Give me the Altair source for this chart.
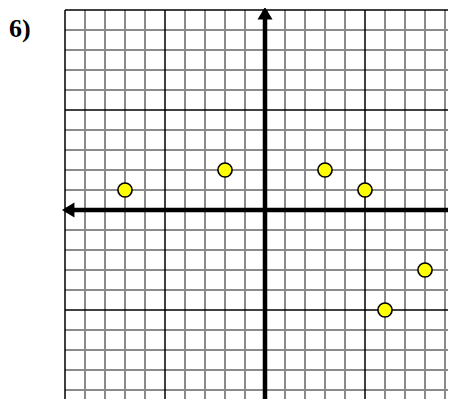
import altair as alt
import pandas as pd

# ---- data ----
point_x = [-7, -2, 3, 5, 6, 8]
point_y = [1, 2, 2, 1, -5, -3]
grid_values = list(range(-10, 11))
major_values = [-10, -5, 5, 10]
axis_values = [0]
label_text = ["6)"]

# ---- scales ----
X_DOMAIN = [-10, 9.15]
Y_DOMAIN = [-9.45, 10]
xs = alt.Scale(domain=X_DOMAIN, zero=False, nice=False)
ys = alt.Scale(domain=Y_DOMAIN, zero=False, nice=False)

minor = [v for v in grid_values if v not in major_values and v not in axis_values]
minor_df = pd.DataFrame({"v": minor})
major_df = pd.DataFrame({"v": major_values})
axis_df = pd.DataFrame({"v": axis_values})
pts_df = pd.DataFrame({"x": point_x, "y": point_y})

A = 9.84
arrow_df = pd.DataFrame({
    "x": [0, 0, -A, A],
    "y": [A, -9.8, 0, 0],
    "shape": [
        "M-1,0.83L0,-0.83L1,0.83Z",
        "M-1,-0.83L0,0.83L1,-0.83Z",
        "M0.83,-1L-0.83,0L0.83,1Z",
        "M-0.83,-1L0.83,0L-0.83,1Z",
    ],
})
label_df = pd.DataFrame({"t": label_text})

vminor = alt.Chart(minor_df).mark_rule(color="#8a8a8a", strokeWidth=2).encode(
    x=alt.X("v:Q", scale=xs, axis=None))
hminor = alt.Chart(minor_df).mark_rule(color="#8a8a8a", strokeWidth=2).encode(
    y=alt.Y("v:Q", scale=ys, axis=None))
vmajor = alt.Chart(major_df).mark_rule(color="black", strokeWidth=1.5).encode(
    x=alt.X("v:Q", scale=xs, axis=None))
hmajor = alt.Chart(major_df).mark_rule(color="black", strokeWidth=1.5).encode(
    y=alt.Y("v:Q", scale=ys, axis=None))
vaxis = alt.Chart(axis_df).mark_rule(color="black", strokeWidth=4.5).encode(
    x=alt.X("v:Q", scale=xs, axis=None))
haxis = alt.Chart(axis_df).mark_rule(color="black", strokeWidth=4.5).encode(
    y=alt.Y("v:Q", scale=ys, axis=None))
arrows = alt.Chart(arrow_df).mark_point(filled=True, color="black", size=225, opacity=1).encode(
    x=alt.X("x:Q", scale=xs, axis=None),
    y=alt.Y("y:Q", scale=ys, axis=None),
    shape=alt.Shape("shape:N", scale=None, legend=None),
)
points = alt.Chart(pts_df).mark_point(
    shape="circle", filled=True, fill="#ffff00", stroke="black", strokeWidth=1.6,
    size=200, opacity=1, fillOpacity=1,
).encode(
    x=alt.X("x:Q", scale=xs, axis=None),
    y=alt.Y("y:Q", scale=ys, axis=None),
)
label = alt.Chart(label_df).mark_text(
    font="Liberation Serif", fontWeight="bold", fontSize=26, align="left",
    baseline="alphabetic", color="black",
).encode(text="t:N", x=alt.value(-56), y=alt.value(27))

chart = alt.layer(
    vminor, hminor, vmajor, hmajor, vaxis, haxis, arrows, points, label
).properties(
    width=383, height=389,
    autosize=alt.AutoSizeParams(type="none"),
    padding={"left": 57, "top": 2, "right": 0, "bottom": 0},
    background="white",
).configure_view(stroke=None)

chart.save("out.html", embed_options={"renderer": "svg", "actions": False})
